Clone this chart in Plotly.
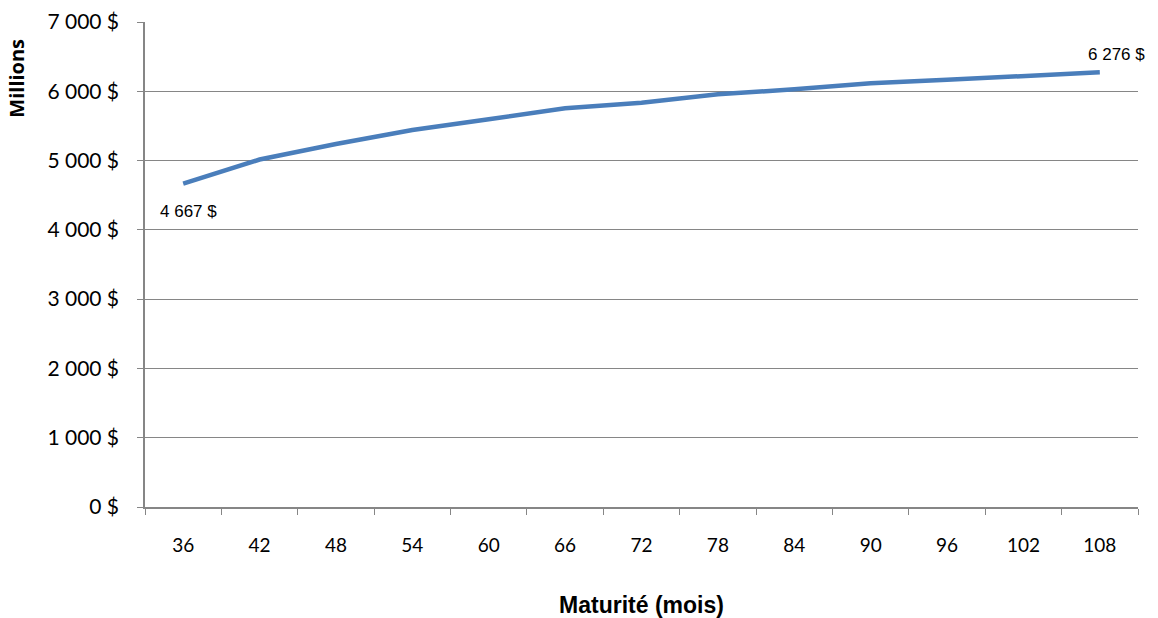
import plotly.graph_objects as go

# Maturity (months) and cumulative amount (millions of $)
maturites = [36, 42, 48, 54, 60, 66, 72, 78, 84, 90, 96, 102, 108]
montants = [4667, 5015, 5240, 5441, 5595, 5754, 5835, 5956, 6028, 6115, 6165, 6222, 6276]
y_ticks = [0, 1000, 2000, 3000, 4000, 5000, 6000, 7000]


def fmt(v):
    return f"{v:,}".replace(",", " ") + " $"


cats = [str(m) for m in maturites]
grid = "#868686"

fig = go.Figure()
fig.add_trace(go.Scatter(
    x=cats, y=montants, mode="lines",
    line=dict(color="#4a7ebb", width=4.5),
    hoverinfo="skip", showlegend=False,
))

# Data labels on the first and last points (category index positions)
label_font = dict(family="Liberation Sans, Arial", size=17, color="#000")
fig.add_annotation(x=0, y=montants[0], text=fmt(montants[0]),
                   xref="x", yref="y", showarrow=False,
                   xshift=5, yshift=-28, font=label_font)
fig.add_annotation(x=len(cats) - 1, y=montants[-1], text=fmt(montants[-1]),
                   xref="x", yref="y", showarrow=False,
                   xshift=17, yshift=18, font=label_font)

# Vertical axis title placed at the top left
fig.add_annotation(text="<b>Millions</b>", xref="paper", yref="paper",
                   x=-0.129, y=0.885, xanchor="center", yanchor="middle",
                   textangle=-90, showarrow=False,
                   font=dict(family="Open Sans", size=20, color="#000"))

fig.update_layout(
    width=1158, height=618,
    margin=dict(l=145, r=20, t=22, b=111),
    paper_bgcolor="white", plot_bgcolor="white",
    xaxis=dict(
        type="category", tickson="boundaries", automargin=False,
        ticks="outside", ticklen=6, tickcolor=grid,
        showline=True, linecolor=grid, linewidth=1.5,
        showgrid=False, range=[-0.5, len(cats) - 0.5],
        ticklabelstandoff=20,
        tickfont=dict(family="Lato", size=19, color="#000"),
        title=dict(text="<b>Maturité (mois)</b>", standoff=44,
                   font=dict(family="Liberation Sans, Arial", size=23, color="#000")),
    ),
    yaxis=dict(
        range=[0, 7000], tickvals=y_ticks, ticktext=[fmt(v) for v in y_ticks],
        automargin=False,
        ticks="outside", ticklen=6, tickcolor=grid,
        showline=True, linecolor=grid, linewidth=1.5,
        showgrid=True, gridcolor=grid, gridwidth=1.3,
        zeroline=False, ticklabelstandoff=14,
        tickfont=dict(family="Lato", size=21, color="#000"),
    ),
)

fig.write_html("out.html")
